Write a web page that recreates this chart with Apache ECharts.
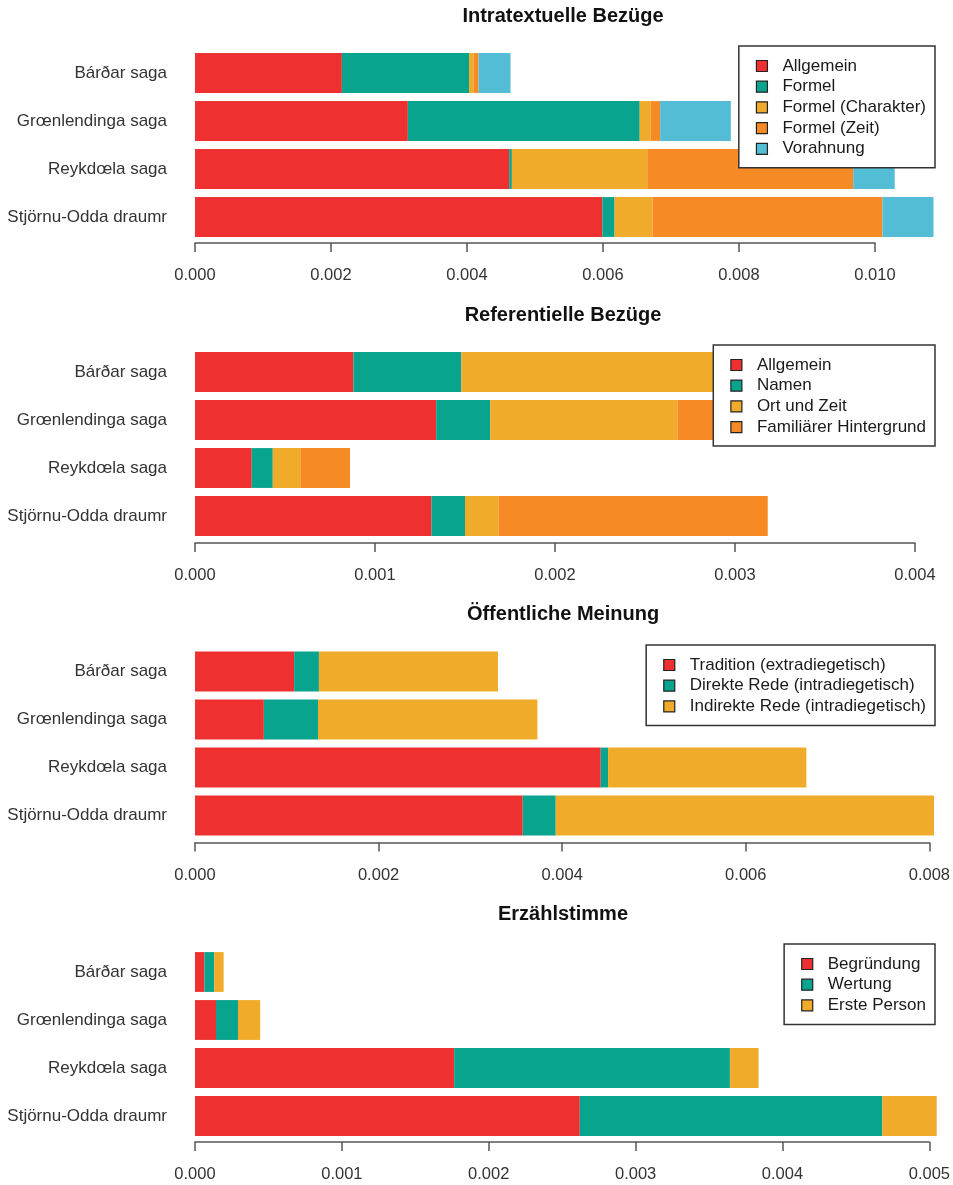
<!DOCTYPE html>
<html>
<head>
<meta charset="utf-8">
<title>Bezüge, Öffentliche Meinung und Erzählstimme</title>
<script src="https://cdn.jsdelivr.net/npm/echarts@6/dist/echarts.min.js"></script>
<style>
  html, body { margin: 0; padding: 0; background: #fff; }
  #chart { width: 953px; height: 1185px; }
</style>
</head>
<body>
<div id="chart"></div>
<script>
// Texts (rows, top to bottom)
const sagas = ['Bárðar saga', 'Grœnlendinga saga', 'Reykdœla saga', 'Stjörnu-Odda draumr'];

// Panel 1: Intratextuelle Bezüge (relative frequency per saga)
const intraNames = ['Allgemein', 'Formel', 'Formel (Charakter)', 'Formel (Zeit)', 'Vorahnung'];
const intraAllgemein   = [0.00216, 0.00313, 0.00462, 0.00599];
const intraFormel      = [0.00187, 0.00341, 0.00004, 0.00018];
const intraCharakter   = [0.00007, 0.00016, 0.00199, 0.00056];
const intraZeit        = [0.00007, 0.00014, 0.00303, 0.00338];
const intraVorahnung   = [0.00047, 0.00104, 0.00061, 0.00075];
const intraTicks       = [0, 0.002, 0.004, 0.006, 0.008, 0.010];

// Panel 2: Referentielle Bezüge
const refNames = ['Allgemein', 'Namen', 'Ort und Zeit', 'Familiärer Hintergrund'];
const refAllgemein = [0.00088, 0.00134, 0.000315, 0.001314];
const refNamen     = [0.00060, 0.00030, 0.000117, 0.000186];
const refOrtZeit   = [0.00157, 0.00104, 0.000156, 0.000186];
const refFamilie   = [0.00012, 0.00034, 0.000273, 0.001496];
const refTicks     = [0, 0.001, 0.002, 0.003, 0.004];

// Panel 3: Öffentliche Meinung
const opNames = ['Tradition (extradiegetisch)', 'Direkte Rede (intradiegetisch)', 'Indirekte Rede (intradiegetisch)'];
const opTradition = [0.00108, 0.00075, 0.00442, 0.00357];
const opDirekt    = [0.00027, 0.00059, 0.00008, 0.00036];
const opIndirekt  = [0.00195, 0.00239, 0.00216, 0.00412];
const opTicks     = [0, 0.002, 0.004, 0.006, 0.008];

// Panel 4: Erzählstimme
const voiceNames = ['Begründung', 'Wertung', 'Erste Person'];
const voiceBegruendung = [0.000064, 0.000143, 0.001765, 0.00262];
const voiceWertung     = [0.000067, 0.000150, 0.001877, 0.00206];
const voiceErste       = [0.000064, 0.000151, 0.000195, 0.00037];
const voiceTicks       = [0, 0.001, 0.002, 0.003, 0.004, 0.005];

const palette = ['#EE3130', '#08A48E', '#EFAB29', '#F68B26', '#53BDD5'];
const FONT = '"Liberation Sans", Arial, Helvetica, sans-serif';

const panels = [
  { title: 'Intratextuelle Bezüge', names: intraNames,
    values: [intraAllgemein, intraFormel, intraCharakter, intraZeit, intraVorahnung],
    ticks: intraTicks, titleTop: 6, gridTop: 49, gridRight: 78, axisOffset: 2, legendTop: 46 },
  { title: 'Referentielle Bezüge', names: refNames,
    values: [refAllgemein, refNamen, refOrtZeit, refFamilie],
    ticks: refTicks, titleTop: 305, gridTop: 348, gridRight: 38, axisOffset: 3, legendTop: 345 },
  { title: 'Öffentliche Meinung', names: opNames,
    values: [opTradition, opDirekt, opIndirekt],
    ticks: opTicks, titleTop: 604, gridTop: 647.5, gridRight: 23, axisOffset: 3, legendTop: 645 },
  { title: 'Erzählstimme', names: voiceNames,
    values: [voiceBegruendung, voiceWertung, voiceErste],
    ticks: voiceTicks, titleTop: 904, gridTop: 948, gridRight: 23, axisOffset: 2, legendTop: 944 }
];

const option = {
  animation: false,
  backgroundColor: '#ffffff',
  textStyle: { fontFamily: FONT },
  title: [], grid: [], xAxis: [], yAxis: [], legend: [], series: []
};

panels.forEach((p, i) => {
  const step = p.ticks[1] - p.ticks[0];
  option.title.push({
    text: p.title, left: 563, top: p.titleTop, padding: 0, textAlign: 'center',
    textStyle: { fontFamily: FONT, fontSize: 20, fontWeight: 'bold', color: '#111' }
  });
  option.grid.push({ left: 195, right: p.gridRight, top: p.gridTop, height: 192, containLabel: false });
  option.xAxis.push({
    type: 'value', gridIndex: i,
    min: p.ticks[0], max: p.ticks[p.ticks.length - 1], interval: step,
    position: 'bottom', offset: p.axisOffset,
    axisLine: { show: true, lineStyle: { color: '#555', width: 1.5 } },
    axisTick: { show: true, length: 9, lineStyle: { color: '#555', width: 1.5 } },
    axisLabel: { margin: 24, fontSize: 16.5, color: '#333', fontFamily: FONT,
      formatter: v => v.toFixed(3) },
    splitLine: { show: false }
  });
  option.yAxis.push({
    type: 'category', gridIndex: i, data: sagas, inverse: true,
    axisLine: { show: false }, axisTick: { show: false },
    axisLabel: { margin: 28, fontSize: 17, color: '#333', fontFamily: FONT }
  });
  option.legend.push({
    data: p.names, orient: 'vertical', right: 18, top: p.legendTop,
    backgroundColor: '#ffffff', borderColor: '#333', borderWidth: 1.5,
    padding: [11, 9, 10, 17], itemWidth: 11, itemHeight: 11, itemGap: 2.7,
    icon: 'rect', selectedMode: false,
    itemStyle: { borderColor: '#222', borderWidth: 1.2 },
    textStyle: { fontSize: 17, color: '#1a1a1a', fontFamily: FONT, lineHeight: 18, padding: [0, 0, 0, 10] }
  });
  p.names.forEach((name, k) => {
    option.series.push({
      name: name, type: 'bar', stack: 'panel' + i,
      xAxisIndex: i, yAxisIndex: i,
      data: p.values[k], barCategoryGap: '17%', clip: false,
      itemStyle: { color: palette[k] },
      emphasis: { disabled: true }
    });
  });
});

const chart = echarts.init(document.getElementById('chart'), null, { renderer: 'canvas' });
chart.setOption(option);
</script>
</body>
</html>
